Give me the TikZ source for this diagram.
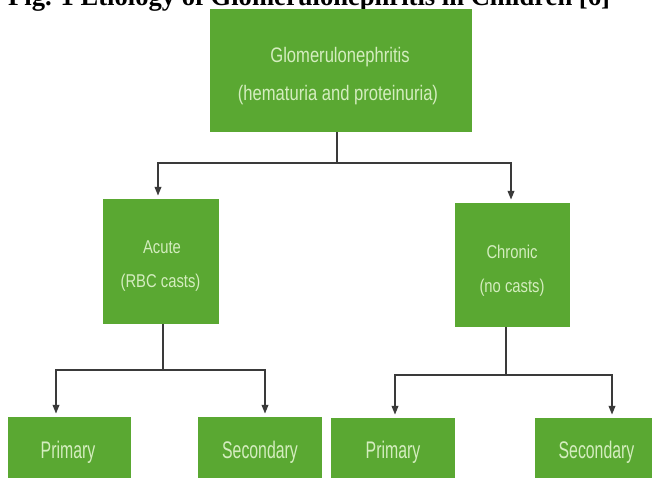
\documentclass[tikz,border=0pt]{standalone}
\usepackage{fontspec}
\setmainfont{Liberation Serif}
\newfontfamily\condA[FakeStretch=0.79]{Liberation Sans}
\newfontfamily\condB[FakeStretch=0.8]{Liberation Sans}
\newfontfamily\condC[FakeStretch=0.66]{Liberation Sans}
\usetikzlibrary{arrows.meta}
\definecolor{gboxc}{HTML}{5AA832}
\definecolor{gtextc}{HTML}{D4EDBF}
\definecolor{connc}{HTML}{3A3A3A}
\begin{document}
\begin{tikzpicture}[x=1pt,y=-1pt,
  box/.style={rectangle, fill=gboxc, draw=none, inner sep=0pt},
  txt/.style={text=gtextc, inner sep=0pt, anchor=base},
  toptxt/.style={txt, font=\condA\fontsize{21}{21}\selectfont},
  midtxt/.style={txt, font=\condB\fontsize{18.5}{18.5}\selectfont},
  lowtxt/.style={txt, font=\condC\fontsize{24}{24}\selectfont},
  wire/.style={draw=connc, line width=2pt},
  arr/.style={wire, -{Triangle[width=6.5pt,length=9pt]}, shorten >=3pt}]
\useasboundingbox (0,0) rectangle (652,477);
\clip (0,0) rectangle (652,477);
\fill[white] (0,0) rectangle (652,477);

\node[anchor=base west, inner sep=0pt, font=\bfseries\fontsize{26.6}{30}\selectfont] (title) at (8,5) {Fig. 1 Etiology of Glomerulonephritis in Children [6]};

% boxes
\node[box, minimum width=262pt, minimum height=123pt] (top) at (341,70.5) {};
\node[box, minimum width=116pt, minimum height=125pt] (acute) at (161,261.5) {};
\node[box, minimum width=115pt, minimum height=124pt] (chronic) at (512.5,265) {};
\node[box, minimum width=123pt, minimum height=73pt] (p1) at (69.5,453.5) {};
\node[box, minimum width=124pt, minimum height=73pt] (s1) at (260,453.5) {};
\node[box, minimum width=124pt, minimum height=72pt] (p2) at (393,454) {};
\node[box, minimum width=125pt, minimum height=72pt] (s2) at (597.5,454) {};

% texts
\node[toptxt] (topa) at (340,62) {Glomerulonephritis};
\node[toptxt] (topb) at (338,100) {(hematuria and proteinuria)};
\node[midtxt] (acutea) at (162,253) {Acute};
\node[midtxt] (acuteb) at (160.5,287) {(RBC casts)};
\node[midtxt] (chronica) at (512,258) {Chronic};
\node[midtxt] (chronicb) at (512,292) {(no casts)};
\node[lowtxt] (p1t) at (68,458) {Primary};
\node[lowtxt] (s1t) at (260,458) {Secondary};
\node[lowtxt] (p2t) at (393,458) {Primary};
\node[lowtxt] (s2t) at (596.5,458) {Secondary};

% connectors
\coordinate (j1) at (337,163);
\draw[wire] ([xshift=-4pt]top.south) -- (j1);
\draw[arr] (j1) -| ([xshift=-3pt]acute.north);
\draw[arr] (j1) -| ([xshift=-1.5pt]chronic.north);

\coordinate (j2) at (163,370);
\draw[wire] ([xshift=2pt]acute.south) -- (j2);
\draw[arr] (j2) -| ([xshift=-13.5pt]p1.north);
\draw[arr] (j2) -| ([xshift=5pt]s1.north);

\coordinate (j3) at (506,375);
\draw[wire] ([xshift=-6.5pt]chronic.south) -- (j3);
\draw[arr] (j3) -| ([xshift=2pt]p2.north);
\draw[arr] (j3) -| ([xshift=14.5pt]s2.north);
\end{tikzpicture}
\end{document}
